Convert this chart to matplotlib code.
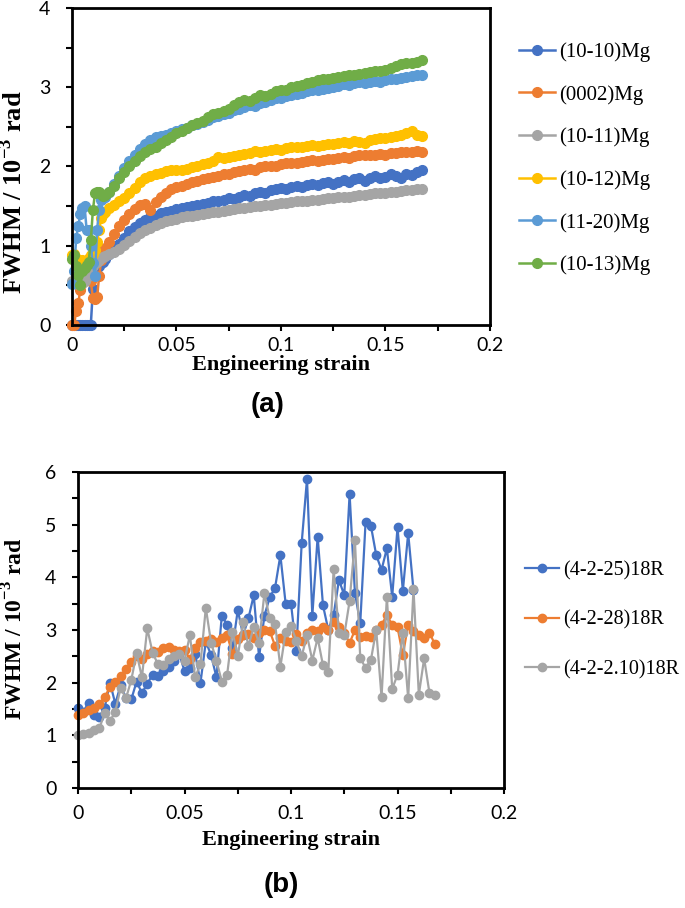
import matplotlib
matplotlib.use("Agg")
import matplotlib.pyplot as plt
from matplotlib.ticker import MultipleLocator, FuncFormatter

plt.rcParams["mathtext.fontset"] = "custom"
plt.rcParams["mathtext.rm"] = "Liberation Serif"
plt.rcParams["mathtext.bf"] = "Liberation Serif:bold"

# (a) Mg peaks
strain_a = [0, 0.001, 0.002, 0.003, 0.004, 0.005, 0.006, 0.007, 0.008, 0.009, 0.010, 0.011, 0.012, 0.013, 0.014, 0.015, 0.016,
            0.0175, 0.020, 0.0225, 0.025, 0.0275, 0.030, 0.0325, 0.035, 0.0375, 0.040,
            0.0425, 0.045, 0.0475, 0.050, 0.0525, 0.055, 0.0575, 0.060, 0.0625, 0.065,
            0.0675, 0.070, 0.0725, 0.075, 0.0775, 0.080, 0.0825, 0.085, 0.0875, 0.090,
            0.0925, 0.095, 0.0975, 0.100, 0.1025, 0.105, 0.1075, 0.110, 0.1125, 0.115,
            0.1175, 0.120, 0.1225, 0.125, 0.1275, 0.130, 0.1325, 0.135, 0.1375, 0.140,
            0.1425, 0.145, 0.1475, 0.150, 0.1525, 0.155, 0.1575, 0.160, 0.1625, 0.165, 0.1675]

mg_1010 = [0, 0, 0, 0, 0, 0, 0, 0, 0, 0, 0.45, 0.70, 0.72, 0.75, 0.78, 0.80, 0.83,
           0.90, 0.95, 1.02, 1.10, 1.18, 1.24, 1.29, 1.33, 1.36, 1.38,
           1.41, 1.43, 1.44, 1.46, 1.47, 1.49, 1.50, 1.51, 1.53, 1.54,
           1.56, 1.57, 1.58, 1.60, 1.59, 1.62, 1.64, 1.63, 1.66, 1.68,
           1.67, 1.70, 1.71, 1.73, 1.71, 1.74, 1.76, 1.74, 1.77, 1.78,
           1.77, 1.79, 1.80, 1.78, 1.81, 1.83, 1.80, 1.84, 1.85, 1.82,
           1.86, 1.88, 1.85, 1.87, 1.90, 1.88, 1.86, 1.91, 1.89, 1.93, 1.96]

mg_0002 = [0, 0, 0.18, 0.28, 0.44, 0.53, 0.58, 0.62, 0.65, 0.55, 0.34, 0.33, 0.35, 0.62, 0.82, 0.90, 0.97,
           1.05, 1.15, 1.25, 1.33, 1.40, 1.46, 1.52, 1.53, 1.45, 1.55,
           1.62, 1.67, 1.71, 1.74, 1.76, 1.78, 1.80, 1.82, 1.84, 1.85,
           1.87, 1.88, 1.90, 1.91, 1.93, 1.94, 1.95, 1.97, 1.96, 1.99,
           2.00, 2.01, 2.00, 2.03, 2.04, 2.05, 2.04, 2.06, 2.07, 2.08,
           2.07, 2.08, 2.09, 2.10, 2.11, 2.12, 2.11, 2.13, 2.14, 2.14,
           2.15, 2.15, 2.16, 2.15, 2.17, 2.17, 2.18, 2.18, 2.18, 2.19, 2.18]

mg_1011 = [0.55, 0.55, 0.53, 0.52, 0.52, 0.53, 0.55, 0.60, 0.65, 0.70, 0.75, 0.78, 0.80, 0.82, 0.84, 0.86, 0.87,
           0.89, 0.92, 0.96, 1.01, 1.06, 1.11, 1.16, 1.20, 1.23, 1.26,
           1.29, 1.31, 1.33, 1.34, 1.36, 1.37, 1.38, 1.39, 1.40, 1.41,
           1.42, 1.43, 1.44, 1.45, 1.46, 1.47, 1.48, 1.49, 1.50, 1.50,
           1.51, 1.52, 1.53, 1.54, 1.54, 1.55, 1.56, 1.56, 1.57, 1.58,
           1.58, 1.59, 1.60, 1.60, 1.61, 1.62, 1.62, 1.63, 1.64, 1.64,
           1.65, 1.66, 1.66, 1.67, 1.68, 1.68, 1.69, 1.70, 1.70, 1.71, 1.72]

mg_1012 = [0.88, 0.90, 0.85, 0.82, 0.80, 0.82, 0.78, 0.80, 0.85, 0.88, 0.90, 0.95, 1.05, 1.20, 1.35, 1.40, 1.43,
           1.47, 1.52, 1.56, 1.60, 1.66, 1.73, 1.80, 1.85, 1.88, 1.90,
           1.92, 1.94, 1.95, 1.95, 1.96, 1.97, 1.99, 2.00, 2.03, 2.05,
           2.07, 2.12, 2.11, 2.12, 2.13, 2.15, 2.16, 2.17, 2.19, 2.18,
           2.20, 2.21, 2.22, 2.21, 2.23, 2.24, 2.25, 2.24, 2.26, 2.27,
           2.26, 2.27, 2.28, 2.28, 2.30, 2.31, 2.30, 2.32, 2.31, 2.30,
           2.33, 2.35, 2.36, 2.36, 2.37, 2.38, 2.40, 2.42, 2.45, 2.40, 2.39]

mg_1120 = [0.52, 0.68, 1.10, 1.25, 1.40, 1.47, 1.50, 1.20, 1.20, 1.00, 0.78, 0.62, 1.20, 1.45, 1.58, 1.60, 1.62,
           1.68, 1.78, 1.88, 1.98, 2.07, 2.15, 2.22, 2.29, 2.34, 2.37,
           2.38, 2.40, 2.42, 2.45, 2.47, 2.49, 2.52, 2.54, 2.56, 2.59,
           2.62, 2.64, 2.66, 2.68, 2.71, 2.73, 2.75, 2.77, 2.76, 2.80,
           2.82, 2.84, 2.86, 2.87, 2.89, 2.90, 2.92, 2.93, 2.95, 2.96,
           2.97, 2.98, 2.99, 3.00, 3.02, 3.04, 3.03, 3.05, 3.06, 3.05,
           3.07, 3.08, 3.07, 3.09, 3.10, 3.11, 3.12, 3.13, 3.14, 3.15, 3.15]

mg_1013 = [0.83, 0.88, 0.75, 0.63, 0.50, 0.68, 0.72, 0.76, 0.80, 1.07, 1.45, 1.66, 1.68, 1.68, 1.65, 1.63, 1.64,
           1.68, 1.76, 1.85, 1.93, 2.01, 2.07, 2.13, 2.18, 2.22, 2.25,
           2.30, 2.33, 2.37, 2.42, 2.45, 2.48, 2.52, 2.55, 2.57, 2.62,
           2.66, 2.68, 2.70, 2.73, 2.78, 2.82, 2.84, 2.83, 2.87, 2.90,
           2.89, 2.92, 2.95, 2.96, 2.97, 3.00, 3.02, 3.03, 3.05, 3.07,
           3.09, 3.10, 3.11, 3.12, 3.13, 3.14, 3.15, 3.15, 3.17, 3.18,
           3.19, 3.20, 3.20, 3.22, 3.24, 3.27, 3.29, 3.30, 3.31, 3.32, 3.34]

labels_a = ["(10-10)Mg", "(0002)Mg", "(10-11)Mg", "(10-12)Mg", "(11-20)Mg", "(10-13)Mg"]
colors_a = ["#4472C4", "#ED7D31", "#A5A5A5", "#FFC000", "#5B9BD5", "#70AD47"]

# (b) 18R peaks
strain_b = [0, 0.0025, 0.005, 0.0075, 0.010, 0.0125, 0.015, 0.0175, 0.020, 0.0225,
            0.025, 0.0275, 0.030, 0.0325, 0.035, 0.0375, 0.040, 0.0425, 0.045, 0.0475,
            0.050, 0.0525, 0.055, 0.0575, 0.060, 0.0625, 0.065, 0.0675, 0.070, 0.0725,
            0.075, 0.0775, 0.080, 0.0825, 0.085, 0.0875, 0.090, 0.0925, 0.095, 0.0975,
            0.100, 0.1025, 0.105, 0.1075, 0.110, 0.1125, 0.115, 0.1175, 0.120, 0.1225,
            0.125, 0.1275, 0.130, 0.1325, 0.135, 0.1375, 0.140, 0.1425, 0.145, 0.1475,
            0.150, 0.1525, 0.155, 0.1575, 0.160, 0.1625, 0.165, 0.1675]

r18_25 = [1.52, 1.45, 1.62, 1.38, 1.35, 1.52, 2.00, 1.60, 1.95, 1.70,
          1.68, 2.02, 1.80, 1.98, 2.15, 2.12, 2.22, 2.30, 2.42, 2.55,
          2.22, 2.28, 2.55, 2.00, 2.78, 2.52, 2.10, 3.27, 3.10, 2.65,
          3.38, 2.90, 3.22, 3.66, 2.48, 3.27, 3.62, 3.80, 4.42, 3.49,
          3.50, 2.60, 4.65, 5.87, 3.27, 4.77, 3.47, 3.00, 3.28, 3.95,
          3.66, 5.58, 3.70, 3.13, 5.05, 4.98, 4.42, 4.14, 4.55, 3.63,
          4.95, 3.74, 4.84, 3.75]

r18_28 = [1.38, 1.42, 1.48, 1.52, 1.60, 1.72, 1.92, 2.02, 2.12, 2.25,
          2.40, 2.50, 2.45, 2.55, 2.60, 2.58, 2.65, 2.68, 2.62, 2.60,
          2.62, 2.45, 2.65, 2.78, 2.80, 2.82, 2.78, 2.85, 2.90, 2.55,
          2.82, 2.90, 2.93, 2.85, 2.95, 3.00, 2.98, 2.70, 2.85, 2.80,
          2.78, 2.92, 2.80, 2.95, 3.00, 2.98, 3.06, 3.00, 3.15, 3.05,
          2.95, 2.75, 3.00, 2.87, 2.88, 2.86, 3.00, 3.10, 3.28, 3.10,
          3.05, 2.52, 3.10, 2.98, 2.90, 2.85, 2.95, 2.73]

r18_210 = [1.00, 1.02, 1.05, 1.10, 1.13, 1.42, 1.27, 1.45, 1.90, 1.70,
           2.05, 2.56, 2.10, 3.03, 2.57, 2.35, 2.33, 2.45, 2.50, 2.55,
           2.42, 2.90, 2.10, 2.36, 3.42, 2.75, 2.42, 2.02, 2.15, 2.97,
           2.50, 3.15, 2.70, 3.05, 2.75, 3.70, 3.22, 3.12, 2.30, 2.97,
           3.07, 2.80, 2.50, 2.90, 2.42, 2.85, 2.33, 2.20, 4.15, 2.95,
           2.90, 3.55, 4.70, 2.47, 2.28, 2.43, 3.00, 1.72, 3.63, 1.88,
           2.15, 2.95, 1.70, 3.78, 1.77, 2.46, 1.80, 1.76]

labels_b = ["(4-2-25)18R", "(4-2-28)18R", "(4-2-2.10)18R"]
colors_b = ["#4472C4", "#ED7D31", "#A5A5A5"]


def style_axes(ax, ymax, xpad):
    ax.set_xlim(0, 0.2)
    ax.set_ylim(0, ymax)
    ax.xaxis.set_major_locator(MultipleLocator(0.05))
    ax.xaxis.set_minor_locator(MultipleLocator(0.025))
    ax.yaxis.set_major_locator(MultipleLocator(1))
    ax.yaxis.set_minor_locator(MultipleLocator(0.5))
    ax.xaxis.set_major_formatter(FuncFormatter(lambda v, p: f"{v:g}"))
    ax.yaxis.set_major_formatter(FuncFormatter(lambda v, p: f"{v:g}"))
    ax.tick_params(which="both", direction="out", width=1.5, length=4.5, color="black")
    ax.tick_params(axis="y", which="major", pad=11)
    ax.tick_params(axis="x", which="major", pad=xpad)
    for lab in ax.get_xticklabels() + ax.get_yticklabels():
        lab.set_fontfamily("Lato")
        lab.set_fontsize(14)
    for sp in ax.spines.values():
        sp.set_linewidth(2.0)
        sp.set_color("black")


fig = plt.figure(figsize=(6.85, 9.08), dpi=100)

ax1 = fig.add_axes([0.1051, 0.6421, 0.6102, 0.3491])
for y, lab, col in zip([mg_1010, mg_0002, mg_1011, mg_1012, mg_1120, mg_1013], labels_a, colors_a):
    ax1.plot(strain_a, y, "-o", color=col, lw=1.8, ms=7, label=lab, clip_on=False)
style_axes(ax1, 4, 4)
ax1.set_xlabel("Engineering strain", fontsize=16, fontweight="bold", family="Liberation Serif")
ax1.xaxis.set_label_coords(0.5, -0.127)
ax1.xaxis.label.set_va("center")
ax1.set_ylabel(r"FWHM / 10$^{\mathbf{-3}}$ rad", fontsize=19, fontweight="bold", family="Liberation Serif")
ax1.yaxis.set_label_coords(-0.142, 0.42)
ax1.yaxis.label.set_va("center")
ax1.legend(loc="center left", bbox_to_anchor=(0.758, 0.825), bbox_transform=fig.transFigure,
           frameon=False, borderpad=0, borderaxespad=0, handlelength=1.7, handletextpad=0.2,
           labelspacing=1.1, prop={"family": "Liberation Serif", "size": 15})

ax2 = fig.add_axes([0.1139, 0.1322, 0.6219, 0.3480])
for y, lab, col in zip([r18_25, r18_28, r18_210], labels_b, colors_b):
    ax2.plot(strain_b[:len(y)], y, "-o", color=col, lw=1.6, ms=6, label=lab, clip_on=False)
style_axes(ax2, 6, 8)
ax2.set_xlabel("Engineering strain", fontsize=16, fontweight="bold", family="Liberation Serif")
ax2.xaxis.set_label_coords(0.5, -0.165)
ax2.xaxis.label.set_va("center")
ax2.set_ylabel(r"FWHM / 10$^{\mathbf{-3}}$ rad", fontsize=17, fontweight="bold", family="Liberation Serif")
ax2.yaxis.set_label_coords(-0.149, 0.503)
ax2.yaxis.label.set_va("center")
ax2.legend(loc="center left", bbox_to_anchor=(0.766, 0.317), bbox_transform=fig.transFigure,
           frameon=False, borderpad=0, borderaxespad=0, handlelength=1.7, handletextpad=0.2,
           labelspacing=1.5, prop={"family": "Liberation Serif", "size": 14.5})

fig.text(268 / 685, 1 - 405 / 908, "(a)", ha="center", va="center", fontsize=20,
         fontweight="bold", family="Liberation Sans")
fig.text(281 / 685, 1 - 885 / 908, "(b)", ha="center", va="center", fontsize=20,
         fontweight="bold", family="Liberation Sans")

fig.savefig("out.png", dpi=100)
